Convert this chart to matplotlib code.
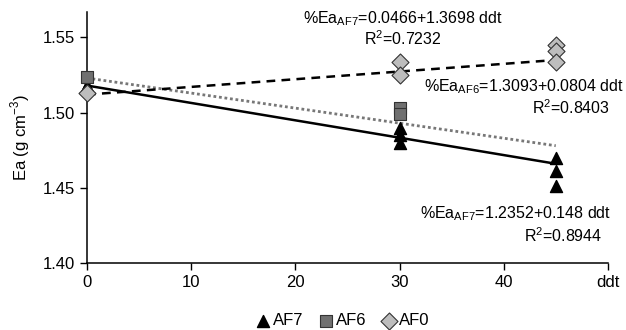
import numpy as np
import matplotlib
matplotlib.use("Agg")
import matplotlib.pyplot as plt

plt.rcParams["font.family"] = ["Liberation Sans", "DejaVu Sans"]
plt.rcParams["mathtext.fontset"] = "custom"
plt.rcParams["mathtext.rm"] = "Liberation Sans"

# measured points (ddt, Ea)
af7_x = [0, 0, 0, 30, 30, 30, 45, 45, 45]
af7_y = [1.518, 1.518, 1.518, 1.490, 1.485, 1.480, 1.470, 1.461, 1.451]
af6_x = [0, 30, 30]
af6_y = [1.524, 1.503, 1.499]
af0_x = [0, 30, 30, 45, 45, 45]
af0_y = [1.513, 1.534, 1.525, 1.545, 1.541, 1.534]

# trend lines: (value at ddt=0, value at ddt=45)
trend_af7 = [1.518, 1.466]
trend_af6 = [1.523, 1.478]
trend_af0 = [1.512, 1.535]
trend_x = [0, 45]

xticks = [0, 10, 20, 30, 40, 50]
xticklabels = ["0", "10", "20", "30", "40", "ddt"]
yticks = [1.40, 1.45, 1.50, 1.55]

fig = plt.figure(figsize=(6.26, 3.30), dpi=100)
ax = fig.add_axes([0.139, 0.203, 0.832, 0.761])

ax.plot(trend_x, trend_af7, color="black", lw=1.8, zorder=2, clip_on=False)
ax.plot(trend_x, trend_af6, color="#777777", lw=2.0, ls=(0, (1, 1)), zorder=2, clip_on=False)
ax.plot(trend_x, trend_af0, color="black", lw=1.8, ls=(0, (3.5, 2.5)), zorder=2, clip_on=False)

ax.scatter(af7_x, af7_y, marker="^", s=75, color="black", zorder=3, clip_on=False, label="AF7")
ax.scatter(af6_x, af6_y, marker="s", s=75, facecolor="#707070",
           edgecolor="#333333", linewidth=0.8, zorder=4, clip_on=False, label="AF6")
ax.scatter(af0_x, af0_y, marker="D", s=75, facecolor="#bdbdbd",
           edgecolor="#333333", linewidth=0.8, zorder=5, clip_on=False, label="AF0")

ax.set_xlim(0, 50)
ax.set_ylim(1.40, 1.567)
ax.set_xticks(xticks)
ax.set_xticklabels(xticklabels)
ax.set_yticks(yticks)
ax.set_yticklabels(["%.2f" % v for v in yticks])
ax.tick_params(labelsize=12, direction="out", length=5, width=1)
ax.spines["top"].set_visible(False)
ax.spines["right"].set_visible(False)
ax.spines["left"].set_linewidth(1.1)
ax.spines["bottom"].set_linewidth(1.1)
ax.set_ylabel("Ea (g cm$^{-3}$)", fontsize=12, labelpad=8)

fs = 11.5
ax.text(30.3, 1.5625, "%Ea$_{\\mathregular{AF7}}$=0.0466+1.3698 ddt", fontsize=fs,
        ha="center", va="center")
ax.text(30.3, 1.549, "R$^{\\mathregular{2}}$=0.7232", fontsize=fs, ha="center", va="center")
ax.text(51.6, 1.5175, "%Ea$_{\\mathregular{AF6}}$=1.3093+0.0804 ddt", fontsize=fs,
        ha="right", va="center")
ax.text(46.5, 1.503, "R$^{\\mathregular{2}}$=0.8403", fontsize=fs, ha="center", va="center")
ax.text(50.3, 1.4325, "%Ea$_{\\mathregular{AF7}}$=1.2352+0.148 ddt", fontsize=fs,
        ha="right", va="center")
ax.text(45.7, 1.418, "R$^{\\mathregular{2}}$=0.8944", fontsize=fs, ha="center", va="center")

fig.legend(loc="lower center", bbox_to_anchor=(0.545, -0.04), ncol=3, frameon=False,
           fontsize=12, handletextpad=0.05, columnspacing=0.7, handlelength=1.2)

fig.savefig("out.png", dpi=100)
